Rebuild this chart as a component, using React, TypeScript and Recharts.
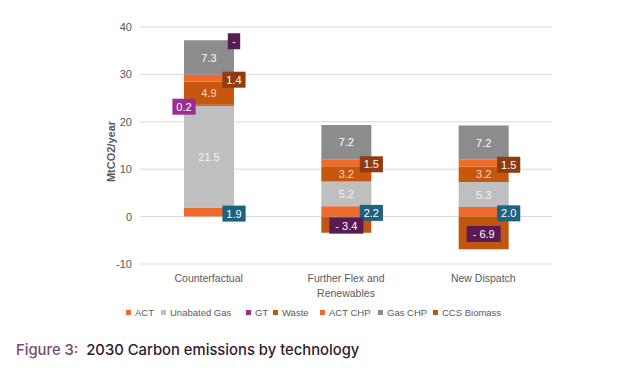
import React from 'react';
import { BarChart, Bar, XAxis, YAxis, CartesianGrid, LabelList, Text } from 'recharts';

const categories = ['Counterfactual', 'Further Flex and Renewables', 'New Dispatch'];
const act = [1.9, 2.2, 2.0];
const unabatedGas = [21.5, 5.2, 5.3];
const gt = [0.2, 0.0, 0.0];
const waste = [4.9, 3.2, 3.2];
const actChp = [1.4, 1.5, 1.5];
const gasChp = [7.3, 7.2, 7.2];
const ccsBiomass = [0, -3.4, -6.9];
const yTicks = [-10, 0, 10, 20, 30, 40];

const FONT = '"Liberation Sans", Arial, sans-serif';
const AXIS_GREY = '#595959';

const series = [
  { key: 'act', name: 'ACT', color: '#EE6A2C', label: 'right', box: '#1D6380', text: '#fff' },
  { key: 'unabatedGas', name: 'Unabated Gas', color: '#BFBFBF', label: 'inside', text: '#F4F4F4' },
  { key: 'gt', name: 'GT', color: '#9B2D92', label: 'left', box: '#9B2D92', text: '#fff' },
  { key: 'waste', name: 'Waste', color: '#C6570F', label: 'inside', text: '#FBD8C2' },
  { key: 'actChp', name: 'ACT CHP', color: '#F06B28', label: 'right', box: '#8E3C10', text: '#fff' },
  { key: 'gasChp', name: 'Gas CHP', color: '#8C8C8C', label: 'inside', text: '#fff' },
  { key: 'ccsBiomass', name: 'CCS Biomass', color: '#C0560F', label: 'center', box: '#5A1A52', text: '#fff' },
];

const data = categories.map((name, i) => ({
  name,
  act: act[i],
  unabatedGas: unabatedGas[i],
  gt: gt[i],
  waste: waste[i],
  actChp: actChp[i],
  gasChp: gasChp[i],
  ccsBiomass: ccsBiomass[i],
}));

const fmt = (v: number) => (v < 0 ? `- ${Math.abs(v).toFixed(1)}` : v.toFixed(1));

const Box = ({ cx, cy, text, fill }: any) => {
  const w = text.length * 5.4 + 7;
  return (
    <g>
      <rect x={cx - w / 2} y={cy - 8} width={w} height={16} fill={fill} />
      <text x={cx} y={cy + 4} textAnchor="middle" fill="#fff" fontSize={11} fontFamily={FONT}>
        {text}
      </text>
    </g>
  );
};

const makeLabel = (s: any) => (props: any) => {
  const vb = props.viewBox ?? props;
  const x = Number(vb.x ?? props.x);
  const y = Number(vb.y ?? props.y);
  const width = Number(vb.width ?? props.width);
  const height = Number(vb.height ?? props.height);
  const value = Number(props.value);
  const cx = x + width / 2;
  const cy = y + height / 2;
  // counterfactual has no CCS, its "-" tag sits at the top of the stack
  const extra =
    s.key === 'gasChp' && ccsBiomass[props.index] === 0 ? (
      <Box cx={x + width} cy={y + 1} text="-" fill="#5A1A52" />
    ) : null;
  if (s.label === 'inside') {
    return (
      <g>
        <text x={cx} y={cy + 4} textAnchor="middle" fill={s.text} fontSize={11} fontFamily={FONT}>
          {fmt(value)}
        </text>
        {extra}
      </g>
    );
  }
  if (s.label === 'right') return <Box cx={x + width} cy={cy + 1.5} text={fmt(value)} fill={s.box} />;
  if (s.label === 'left') return <Box cx={x} cy={cy + 1.5} text={fmt(value)} fill={s.box} />;
  if (value === 0) return null;
  return <Box cx={cx} cy={cy + 1} text={fmt(value)} fill={s.box} />;
};

const CategoryTick = ({ x, y, payload }: any) => (
  <Text
    x={x}
    y={y}
    width={120}
    textAnchor="middle"
    verticalAnchor="start"
    fontSize={10.5}
    fill={AXIS_GREY}
    fontFamily={FONT}
    lineHeight={14.5}
  >
    {payload.value}
  </Text>
);

const YTitle = (props: any) => {
  const vb = props.viewBox;
  const cy = vb.y + vb.height / 2 + 6;
  return (
    <text
      x={111}
      y={cy}
      transform={`rotate(-90, 111, ${cy})`}
      textAnchor="middle"
      dominantBaseline="central"
      fontSize={11}
      fontWeight="bold"
      fill={AXIS_GREY}
      fontFamily={FONT}
    >
      MtCO2/year
    </text>
  );
};

const legendLeft = [126, 161, 246, 273, 320, 378, 433];

const App: React.FC = () => {
  return (
    <div style={{ position: 'absolute', left: 0, top: 0, width: 626, height: 371, background: '#fff' }}>
      <BarChart
        width={626}
        height={300}
        data={data}
        stackOffset="sign"
        barSize={50}
        margin={{ top: 27, right: 74, left: 0, bottom: 6 }}
      >
        <CartesianGrid vertical={false} stroke="#D9D9D9" />
        <XAxis
          dataKey="name"
          axisLine={false}
          tickLine={false}
          tickSize={11}
          tickMargin={0}
          height={30}
          interval={0}
          tick={<CategoryTick />}
        />
        <YAxis
          width={140}
          domain={[-10, 40]}
          ticks={yTicks}
          axisLine={false}
          tickLine={false}
          tick={{ fontSize: 11, fill: AXIS_GREY, fontFamily: FONT }}
          label={{ content: <YTitle /> }}
        />
        {series.map((s) => (
          <Bar key={s.key} dataKey={s.key} name={s.name} stackId="a" fill={s.color} isAnimationActive={false}>
            <LabelList dataKey={s.key} content={makeLabel(s)} />
          </Bar>
        ))}
      </BarChart>
      <div style={{ position: 'absolute', top: 307, left: 0, width: 626, height: 12 }}>
        {series.map((s, i) => (
          <div
            key={s.key}
            style={{
              position: 'absolute',
              left: legendLeft[i],
              top: 0,
              display: 'flex',
              alignItems: 'center',
              fontFamily: FONT,
              fontSize: 9.5,
              color: AXIS_GREY,
              whiteSpace: 'nowrap',
            }}
          >
            <span style={{ display: 'inline-block', width: 5, height: 5, background: s.color, marginRight: 4 }} />
            {s.name}
          </div>
        ))}
      </div>
      <div
        style={{
          position: 'absolute',
          left: 16,
          top: 341,
          fontFamily: 'Inter, "Noto Sans", sans-serif',
          fontSize: 14.8,
          fontWeight: 500,
          color: '#2F1B2C',
          whiteSpace: 'pre',
        }}
      >
        <span style={{ color: '#7A4B6E' }}>Figure 3:</span>
        {'  2030 Carbon emissions by technology'}
      </div>
    </div>
  );
};

export default App;
